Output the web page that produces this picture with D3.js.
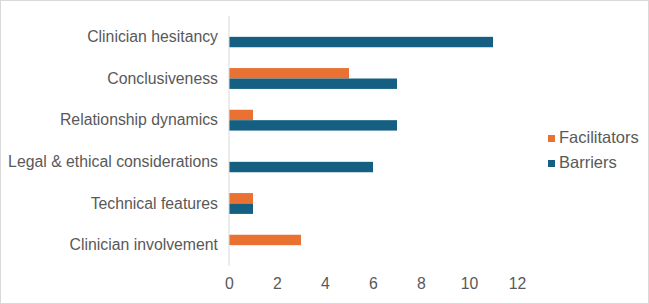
<!DOCTYPE html>
<html>
<head>
<meta charset="utf-8">
<script src="https://cdn.jsdelivr.net/npm/d3@7"></script>
<style>
  body { margin: 0; background: #fff; }
  text { font-family: "Liberation Sans", Arial, sans-serif; }
</style>
</head>
<body>
<div id="chart-area"></div>
<script>
var categories = ["Clinician hesitancy", "Conclusiveness", "Relationship dynamics",
    "Legal & ethical considerations", "Technical features", "Clinician involvement"];
var seriesNames = ["Facilitators", "Barriers"];
var facilitators = [0, 5, 1, 0, 1, 3];
var barriers = [11, 7, 7, 6, 1, 0];
var xTicks = [0, 2, 4, 6, 8, 10, 12];

var colors = {Facilitators: "#E97132", Barriers: "#156082"};
var width = 649, height = 304;

var svg = d3.select("#chart-area").append("svg")
    .attr("width", width)
    .attr("height", height);

// light frame round the chart
svg.append("rect")
    .attr("x", 0.5).attr("y", 0.5)
    .attr("width", width - 1).attr("height", height - 1)
    .attr("fill", "#fff")
    .attr("stroke", "#d9d9d9");

var data = categories.map((c, i) => {
    return {cat: c, Facilitators: facilitators[i], Barriers: barriers[i]};
});

var x = d3.scaleLinear()
    .domain([0, 12])
    .range([229, 517]);

var y = d3.scaleBand()
    .domain(categories)
    .range([16, 266])
    .paddingInner(0.5)
    .paddingOuter(0.25);

var y1 = d3.scaleBand()
    .domain(seriesNames)
    .range([0, y.bandwidth()]);

var groups = svg.selectAll("g.cat")
    .data(data)
    .enter().append("g")
    .attr("class", "cat")
    .attr("transform", d => "translate(0," + y(d.cat) + ")");

groups.selectAll("rect")
    .data(d => seriesNames.map(s => ({key: s, value: d[s]})))
    .enter().append("rect")
    .attr("x", x(0))
    .attr("y", d => y1(d.key))
    .attr("width", d => x(d.value) - x(0))
    .attr("height", y1.bandwidth())
    .attr("fill", d => colors[d.key]);

// category axis line and labels
svg.append("line")
    .attr("x1", x(0)).attr("x2", x(0))
    .attr("y1", 16).attr("y2", 266)
    .attr("stroke", "#d9d9d9");

svg.selectAll("text.cat-label")
    .data(categories)
    .enter().append("text")
    .attr("class", "cat-label")
    .attr("x", 218)
    .attr("y", d => y(d) + y.bandwidth() / 2 + 5)
    .attr("text-anchor", "end")
    .attr("font-size", "15.8px")
    .attr("fill", "#595959")
    .text(d => d);

// value axis
var bottomAxis = d3.axisBottom(x)
    .tickValues(xTicks)
    .tickSize(0)
    .tickPadding(0);

var xa = svg.append("g")
    .attr("transform", "translate(0,278)")
    .call(bottomAxis);
xa.select(".domain").remove();
xa.selectAll("text")
    .attr("font-size", "15.8px")
    .attr("font-family", "Liberation Sans, Arial, sans-serif")
    .attr("fill", "#595959");

// legend
var legend = svg.selectAll("g.legend")
    .data(seriesNames)
    .enter().append("g")
    .attr("class", "legend")
    .attr("transform", (d, i) => "translate(548," + (143 + i * 25) + ")");

legend.append("rect")
    .attr("x", 0).attr("y", -8)
    .attr("width", 7).attr("height", 7)
    .attr("fill", d => colors[d]);

legend.append("text")
    .attr("x", 11)
    .attr("y", 0)
    .attr("font-size", "16.5px")
    .attr("fill", "#595959")
    .text(d => d);
</script>
</body>
</html>
